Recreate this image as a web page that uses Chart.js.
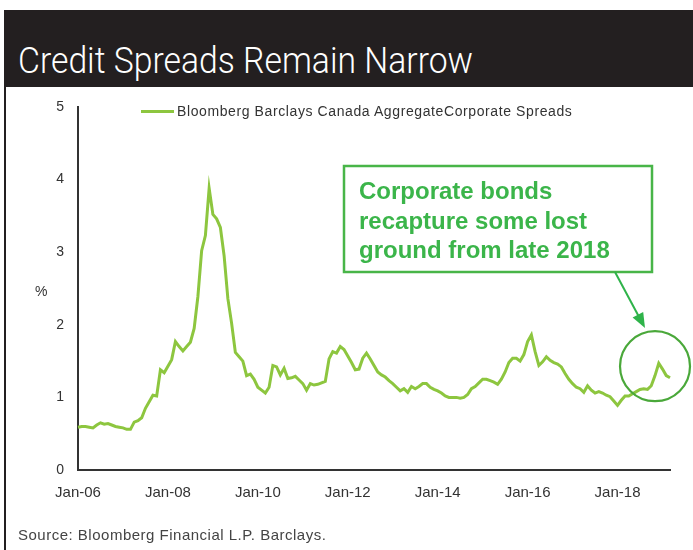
<!DOCTYPE html>
<html>
<head>
<meta charset="utf-8">
<script src="https://cdn.jsdelivr.net/npm/chart.js@4/dist/chart.umd.min.js"></script>
<style>
  html, body { margin: 0; padding: 0; background: #fff; }
  #page { position: relative; width: 693px; height: 550px; overflow: hidden; font-family: "Liberation Sans", Arial, sans-serif; color: #333; }
  #band { position: absolute; left: 4px; top: 10px; width: 689px; height: 77px; background: #231f20; }
  #title { position: absolute; left: 18px; top: 42px; color: #fff; font-family: Roboto, "Liberation Sans", sans-serif; font-weight: 300; font-size: 37px; white-space: nowrap; line-height: 1; transform-origin: 0 0; }
  #frame { position: absolute; left: 4px; top: 87px; width: 2px; height: 463px; background: #231f20; }
  #chart { position: absolute; left: 0; top: 0; }
  #legend { position: absolute; left: 141px; top: 103px; font-size: 14px; letter-spacing: 0.6px; white-space: nowrap; line-height: 16px; }
  #legend .swatch { display: inline-block; width: 33px; height: 3px; background: #8dc63f; vertical-align: middle; margin-right: 3px; position: relative; top: -1px; }
  #ylabel { position: absolute; left: 35px; top: 283px; font-size: 14px; }
  #source { position: absolute; left: 18px; top: 526px; font-size: 15px; letter-spacing: 0.5px; color: #444; white-space: nowrap; }
</style>
</head>
<body>
<div id="page">
  <canvas id="chart" width="693" height="550"></canvas>
  <div id="band"></div>
  <div id="title">Credit Spreads Remain Narrow</div>
  <div id="frame"></div>
  <div id="legend"><span class="swatch"></span>Bloomberg Barclays Canada AggregateCorporate Spreads</div>
  <div id="ylabel">%</div>
  <div id="source">Source: Bloomberg Financial L.P. Barclays.</div>
</div>
<script>
// Monthly spread series, Jan 2006 through Mar 2019 (percent)
const spreads2006 = [0.59, 0.60, 0.60, 0.59, 0.58, 0.62, 0.65, 0.63, 0.64, 0.62, 0.60, 0.59];
const spreads2007 = [0.58, 0.56, 0.56, 0.66, 0.68, 0.72, 0.85, 0.94, 1.03, 1.02, 1.38, 1.34];
const spreads2008 = [1.43, 1.52, 1.77, 1.70, 1.64, 1.70, 1.76, 1.95, 2.39, 3.02, 3.23, 3.88];
const spreads2009 = [3.52, 3.46, 3.34, 2.95, 2.36, 2.02, 1.62, 1.56, 1.50, 1.30, 1.32, 1.25];
const spreads2010 = [1.14, 1.10, 1.06, 1.14, 1.44, 1.42, 1.31, 1.40, 1.26, 1.27, 1.29, 1.24];
const spreads2011 = [1.19, 1.10, 1.19, 1.17, 1.18, 1.20, 1.22, 1.53, 1.63, 1.61, 1.70, 1.66];
const spreads2012 = [1.57, 1.48, 1.38, 1.39, 1.54, 1.61, 1.53, 1.44, 1.35, 1.31, 1.28, 1.23];
const spreads2013 = [1.19, 1.14, 1.09, 1.12, 1.07, 1.15, 1.12, 1.15, 1.19, 1.19, 1.14, 1.11];
const spreads2014 = [1.09, 1.06, 1.02, 1.00, 1.00, 1.00, 0.99, 1.00, 1.04, 1.12, 1.15, 1.20];
const spreads2015 = [1.25, 1.25, 1.23, 1.21, 1.18, 1.25, 1.35, 1.48, 1.54, 1.54, 1.50, 1.59];
const spreads2016 = [1.77, 1.86, 1.63, 1.44, 1.49, 1.56, 1.51, 1.48, 1.46, 1.42, 1.33, 1.25];
const spreads2017 = [1.19, 1.14, 1.12, 1.07, 1.16, 1.10, 1.06, 1.08, 1.06, 1.03, 1.01, 0.95];
const spreads2018 = [0.89, 0.96, 1.02, 1.02, 1.05, 1.08, 1.11, 1.12, 1.11, 1.16, 1.30, 1.47];
const spreads2019 = [1.39, 1.30, 1.27];

const spreads = [].concat(spreads2006, spreads2007, spreads2008, spreads2009, spreads2010,
  spreads2011, spreads2012, spreads2013, spreads2014, spreads2015, spreads2016,
  spreads2017, spreads2018, spreads2019);

const monthNames = ["Jan", "Feb", "Mar", "Apr", "May", "Jun", "Jul", "Aug", "Sep", "Oct", "Nov", "Dec"];
const months = spreads.map((_, i) => monthNames[i % 12] + "-" + String(6 + Math.floor(i / 12)).padStart(2, "0"));

// Axis labels shown every other January
const xTickLabels = ["Jan-06", "Jan-08", "Jan-10", "Jan-12", "Jan-14", "Jan-16", "Jan-18"];
const yTicks = [0, 1, 2, 3, 4, 5];

const calloutLines = ["Corporate bonds", "recapture some lost", "ground from late 2018"];

const GREEN_LINE = "#8dc63f";
const GREEN_TEXT = "#3bb54a";
const GREEN_BOX = "#48b548";
const GREEN_RING = "#4aa83a";

// Fit the headline to its band width
(function fitTitle() {
  const el = document.getElementById("title");
  const w = el.getBoundingClientRect().width;
  const target = 455;
  if (w > 0) el.style.transform = "scaleX(" + (target / w).toFixed(4) + ")";
})();

// Callout box, arrow and ring around the late-2018 move
const calloutPlugin = {
  id: "callout",
  afterDatasetsDraw(chart) {
    const ctx = chart.ctx;
    const xs = chart.scales.x, ys = chart.scales.y;
    ctx.save();
    // box
    ctx.strokeStyle = GREEN_BOX;
    ctx.lineWidth = 2.5;
    ctx.strokeRect(344, 166, 308, 106);
    // text
    ctx.fillStyle = GREEN_TEXT;
    ctx.font = "bold 24px 'Liberation Sans', Arial, sans-serif";
    ctx.textBaseline = "alphabetic";
    ctx.textAlign = "left";
    const baselines = [199, 229, 258];
    calloutLines.forEach((t, i) => ctx.fillText(t, 359, baselines[i]));
    // ring around the latest points
    const cx = xs.getPixelForValue(154);
    const cy = ys.getPixelForValue(1.43);
    ctx.strokeStyle = GREEN_RING;
    ctx.lineWidth = 2.2;
    ctx.beginPath();
    ctx.arc(cx, cy, 35, 0, Math.PI * 2);
    ctx.stroke();
    // arrow from box to ring
    const x0 = 615, y0 = 272, x1 = 645, y1 = 328;
    const ang = Math.atan2(y1 - y0, x1 - x0);
    const head = 15;
    ctx.strokeStyle = "#2fb34a";
    ctx.fillStyle = "#2fb34a";
    ctx.lineWidth = 2;
    ctx.beginPath();
    ctx.moveTo(x0, y0);
    ctx.lineTo(x1 - Math.cos(ang) * head * 0.8, y1 - Math.sin(ang) * head * 0.8);
    ctx.stroke();
    ctx.beginPath();
    ctx.moveTo(x1, y1);
    ctx.lineTo(x1 - Math.cos(ang) * head + Math.sin(ang) * 6, y1 - Math.sin(ang) * head - Math.cos(ang) * 6);
    ctx.lineTo(x1 - Math.cos(ang) * head - Math.sin(ang) * 6, y1 - Math.sin(ang) * head + Math.cos(ang) * 6);
    ctx.closePath();
    ctx.fill();
    ctx.restore();
  }
};

new Chart(document.getElementById("chart"), {
  type: "line",
  data: {
    labels: months,
    datasets: [{
      label: "Bloomberg Barclays Canada AggregateCorporate Spreads",
      data: spreads,
      borderColor: GREEN_LINE,
      borderWidth: 3,
      pointRadius: 0,
      tension: 0,
      fill: false
    }]
  },
  options: {
    responsive: false,
    animation: false,
    events: [],
    layout: { padding: { top: 107, right: 23, bottom: 35, left: 0 } },
    plugins: { legend: { display: false }, tooltip: { enabled: false } },
    scales: {
      x: {
        type: "category",
        offset: false,
        grid: { display: true, drawOnChartArea: false, drawTicks: false },
        border: { display: true, color: "#333", width: 2 },
        ticks: {
          autoSkip: false,
          maxRotation: 0,
          padding: 14,
          color: "#333",
          font: { size: 15, family: "'Liberation Sans', Arial, sans-serif" },
          callback: function (value) {
            const lbl = this.getLabelForValue(value);
            return xTickLabels.includes(lbl) ? lbl : null;
          }
        },
        afterFit(scale) { scale.height = 45; }
      },
      y: {
        min: 0,
        max: 5,
        grid: { display: true, drawOnChartArea: false, drawTicks: false },
        border: { display: true, color: "#333", width: 2 },
        afterBuildTicks(scale) { scale.ticks = yTicks.map(v => ({ value: v })); },
        ticks: {
          padding: 14,
          color: "#333",
          font: { size: 14, family: "'Liberation Sans', Arial, sans-serif" }
        },
        afterFit(scale) { scale.width = 78; }
      }
    }
  },
  plugins: [calloutPlugin]
});
</script>
</body>
</html>
